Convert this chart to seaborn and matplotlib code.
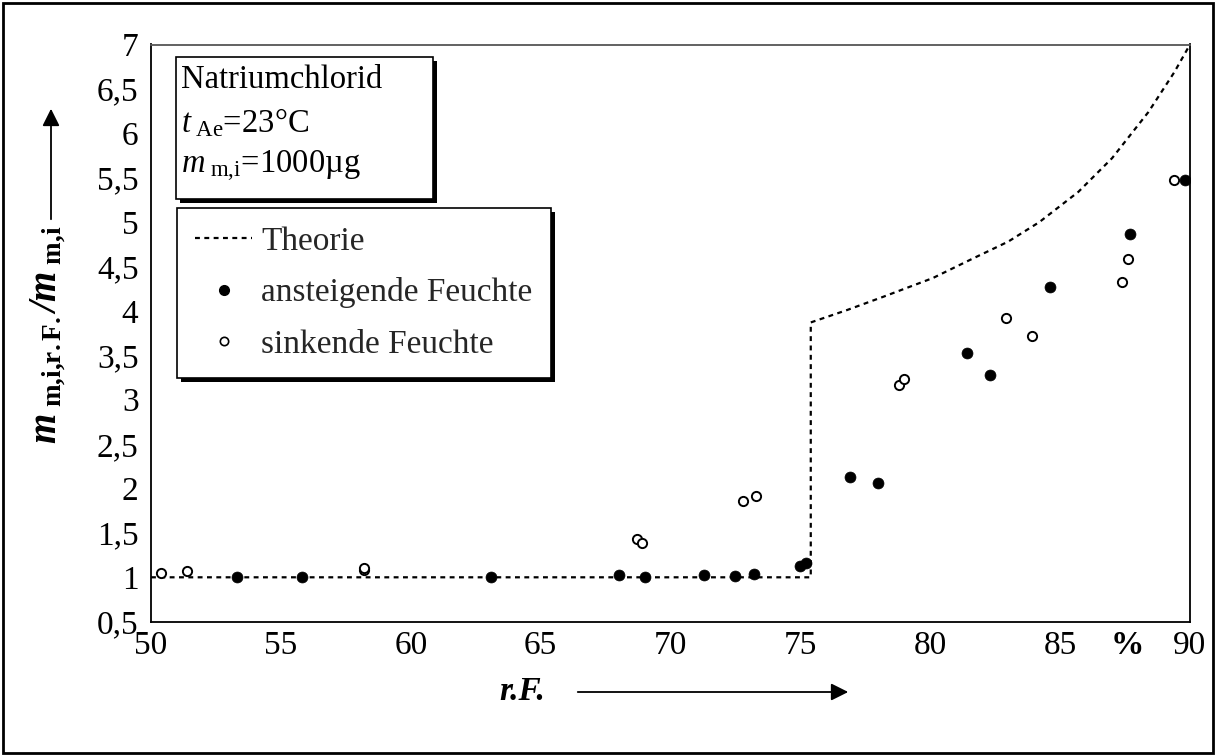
import matplotlib
matplotlib.use("Agg")
import matplotlib.pyplot as plt
import matplotlib.patheffects as pe
from matplotlib.lines import Line2D
from matplotlib.patches import Rectangle, FancyArrowPatch
import seaborn as sns

# ---------------- data ----------------
theory_x = [50.0, 75.4, 75.4, 76.8, 78.2, 80.1, 81.5, 83.0, 84.2, 85.7, 87.0, 88.4, 89.4, 90.0]
theory_y = [1.0, 1.0, 3.87, 4.01, 4.16, 4.37, 4.57, 4.78, 5.00, 5.34, 5.72, 6.24, 6.69, 7.0]

rise_x = [53.3, 55.8, 63.1, 68.0, 69.0, 71.3, 72.5, 73.2, 75.0, 75.2, 76.9, 78.0, 81.4, 82.3, 84.6, 87.7, 89.8]
rise_y = [1.00, 1.00, 1.00, 1.03, 1.00, 1.03, 1.01, 1.04, 1.13, 1.16, 2.13, 2.06, 3.53, 3.28, 4.27, 4.87, 5.47]

fall_x = [50.4, 51.4, 58.2, 58.2, 68.7, 68.9, 72.8, 73.3, 78.8, 79.0, 82.9, 83.9, 87.4, 87.6, 89.4]
fall_y = [1.05, 1.07, 1.08, 1.11, 1.43, 1.39, 1.86, 1.91, 3.17, 3.23, 3.92, 3.72, 4.32, 4.58, 5.47]

x_ticks = [50, 55, 60, 65, 70, 75, 80, 85, 90]
x_tick_labels = ["50", "55", "60", "65", "70", "75", "80", "85", "90"]
y_ticks = [0.5, 1, 1.5, 2, 2.5, 3, 3.5, 4, 4.5, 5, 5.5, 6, 6.5, 7]
y_tick_labels = ["0,5", "1", "1,5", "2", "2,5", "3", "3,5", "4", "4,5", "5", "5,5", "6", "6,5", "7"]

legend_labels = ["Theorie", "ansteigende Feuchte", "sinkende Feuchte"]
info_lines = ["Natriumchlorid", r"$t_{\ \mathrm{Ae}}$=23°C", r"$m_{\ \mathrm{m{,}i}}$=1000µg"]
unit_label = "%"
x_title = "r.F."
y_title = r"$\mathbfit{m}_{\ \mathbf{m{,}i{,}r{.}F{.}}}\mathbfit{/m}_{\ \mathbf{m{,}i}}$"

# ---------------- style ----------------
sns.set_theme(style="white")
plt.rcParams["font.family"] = ["Liberation Serif", "DejaVu Serif"]
plt.rcParams["mathtext.fontset"] = "custom"
plt.rcParams["mathtext.rm"] = "Liberation Serif"
plt.rcParams["mathtext.it"] = "Liberation Serif:italic"
plt.rcParams["mathtext.bf"] = "Liberation Serif:bold"
plt.rcParams["mathtext.bfit"] = "Liberation Serif:bold:italic"

W, H = 1216, 756
fig = plt.figure(figsize=(W / 100, H / 100), dpi=100)
fig.patch.set_facecolor("white")

def fx(px):
    return px / W

def fy(py):
    return 1 - py / H

ax = fig.add_axes([fx(151), fy(621.7), fx(1190) - fx(151), fy(44.5) - fy(621.7)])
ax.set_facecolor("white")

dots = (0, (2.2, 2.0))

# theory line
sns.lineplot(x=theory_x, y=theory_y, estimator=None, sort=False, color="black",
             linewidth=1.6, ax=ax, zorder=2)
ax.lines[-1].set_linestyle(dots)

# measured points
sns.scatterplot(x=rise_x, y=rise_y, color="black", edgecolor="black", linewidth=0.5,
                s=62, ax=ax, zorder=3)
sns.scatterplot(x=fall_x, y=fall_y, color="white", edgecolor="black", linewidth=1.4,
                s=44, ax=ax, zorder=3)

ax.set_xlim(50, 90)
ax.set_ylim(0.5, 7)
ax.set_xticks(x_ticks)
ax.set_xticklabels(x_tick_labels)
ax.set_yticks(y_ticks)
ax.set_yticklabels(y_tick_labels)
ax.tick_params(axis="both", direction="in", length=9, width=1.0, color="black",
               labelsize=24, labelcolor="black")
ax.tick_params(axis="x", pad=6)
ax.tick_params(axis="y", pad=9)
ax.set_xlabel("")
ax.set_ylabel("")
for side, sp in ax.spines.items():
    sp.set_visible(True)
    sp.set_color("black")
    sp.set_linewidth(1.3)
ax.spines["top"].set_color("#555555")

# legend
handles = [
    Line2D([], [], color="black", linewidth=1.6, linestyle=dots),
    Line2D([], [], color="black", marker="o", linestyle="none", markersize=7,
           markerfacecolor="black", markeredgecolor="black"),
    Line2D([], [], color="black", marker="o", linestyle="none", markersize=6,
           markerfacecolor="white", markeredgecolor="black", markeredgewidth=1.2),
]
leg = ax.legend(handles, legend_labels, loc="upper left",
                bbox_to_anchor=(fx(177), fy(208)), bbox_transform=fig.transFigure,
                frameon=True, fancybox=False, framealpha=1, edgecolor="black",
                fontsize=24, handlelength=1.7, handletextpad=0.28, labelspacing=0.62,
                borderpad=0.55, borderaxespad=0)
frame = leg.get_frame()
frame.set_linewidth(1.2)
frame.set_facecolor("white")
frame.set_path_effects([pe.SimplePatchShadow(offset=(3, -3), shadow_rgbFace="black", alpha=1),
                        pe.Normal()])

# info box
box = Rectangle((fx(176), fy(199)), fx(433) - fx(176), fy(57) - fy(199),
                transform=fig.transFigure, facecolor="white", edgecolor="black",
                linewidth=1.2, zorder=5)
box.set_path_effects([pe.SimplePatchShadow(offset=(3, -3), shadow_rgbFace="black", alpha=1),
                      pe.Normal()])
fig.patches.append(box)
for py, line in zip([80, 123, 166], info_lines):
    fig.text(fx(181), fy(py), line, ha="left", va="center", fontsize=23.5, color="black", zorder=6)

# axis titles with arrows
fig.text(fx(48), fy(335), y_title, rotation=90, ha="center", va="center",
         fontsize=28, color="black")
fig.add_artist(FancyArrowPatch(
    (fx(51), fy(222)), (fx(51), fy(106)), transform=fig.transFigure,
    arrowstyle="-|>,head_length=8,head_width=4", mutation_scale=1.3, color="black", linewidth=1.3))

fig.text(fx(522), fy(692), x_title, ha="center", va="center", fontsize=24,
         fontweight="bold", fontstyle="italic", color="black")
fig.add_artist(FancyArrowPatch(
    (fx(575), fy(692)), (fx(851), fy(692)), transform=fig.transFigure,
    arrowstyle="-|>,head_length=8,head_width=4", mutation_scale=1.3, color="black", linewidth=1.3))

# outer frame
fig.add_artist(Rectangle((fx(3), fy(753)), fx(1213) - fx(3), fy(3) - fy(753),
                         transform=fig.transFigure, fill=False, edgecolor="black", linewidth=2))

# "%" unit label in the tick-label row
fig.canvas.draw()
bb = ax.get_xticklabels()[0].get_window_extent()
yc_disp = (bb.y0 + bb.y1) / 2
xd = ax.transData.transform((87.6, 0))[0]
fig.text(xd / W, yc_disp / H, unit_label, ha="center", va="center", fontsize=24,
         fontweight="bold", color="black")

fig.savefig("out.png", dpi=100, facecolor="white")
